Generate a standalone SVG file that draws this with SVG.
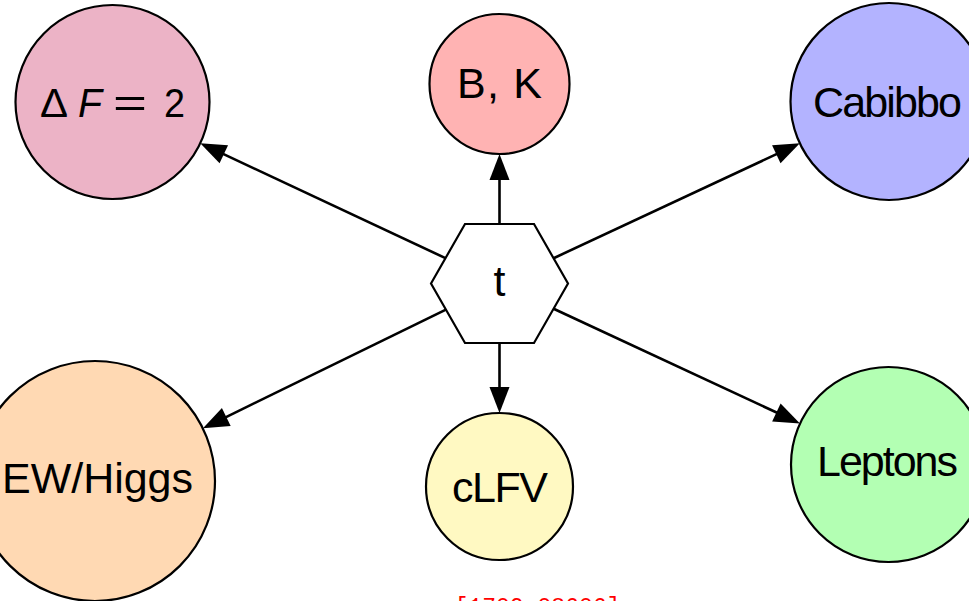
<svg xmlns="http://www.w3.org/2000/svg" width="969" height="601" viewBox="0 0 969 601">
<style>
.node circle{stroke:#000;stroke-width:2.2}
.lbl{font-family:"Liberation Sans","DejaVu Sans",sans-serif;font-size:43px;fill:#000;text-anchor:middle}
.math{font-family:"Liberation Sans","DejaVu Sans",sans-serif;font-size:40px;fill:#000}
.edge{stroke:#000;stroke-width:2.6;fill:none;marker-end:url(#ah)}
</style>
<defs>
<marker id="ah" markerUnits="userSpaceOnUse" markerWidth="26" markerHeight="20" refX="2" refY="10" orient="auto" overflow="visible">
<path d="M0,0 L26,10 L0,20 z" fill="#000"/>
</marker>
</defs>
<rect width="969" height="601" fill="#fff"/>
<g id="connectors">
<line class="edge" x1="445.4" y1="258.1" x2="222.0" y2="153.4"/>
<line class="edge" x1="553.6" y1="258.2" x2="778.1" y2="153.4"/>
<line class="edge" x1="445.9" y1="309.7" x2="224.5" y2="417.8"/>
<line class="edge" x1="553.6" y1="308.7" x2="778.2" y2="413.3"/>
<line class="edge" x1="499.5" y1="224" x2="499.5" y2="178"/>
<line class="edge" x1="499.5" y1="343" x2="499.5" y2="389"/>
</g>
<g id="dF2" class="node">
<circle cx="112.5" cy="102" r="97" fill="#ECB3C6"/>
<text class="math" x="40" y="117" textLength="28" lengthAdjust="spacingAndGlyphs">Δ</text>
<text class="math" x="78" y="117" font-style="italic" textLength="24" lengthAdjust="spacingAndGlyphs">F</text>
<text class="math" x="113" y="117" textLength="34" lengthAdjust="spacingAndGlyphs">=</text>
<text class="math" x="164" y="117" textLength="21" lengthAdjust="spacingAndGlyphs">2</text>
</g>
<g id="BK" class="node">
<circle cx="499.5" cy="84" r="70" fill="#FFB3B3"/>
<text class="lbl" x="499.5" y="98" textLength="85">B, K</text>
</g>
<g id="Cabibbo" class="node">
<circle cx="889" cy="101.5" r="98.5" fill="#B3B3FF"/>
<text class="lbl" x="887.5" y="117" textLength="149">Cabibbo</text>
</g>
<g id="EWHiggs" class="node">
<circle cx="95" cy="481" r="120" fill="#FFD9B3"/>
<text class="lbl" x="97.5" y="493" textLength="191">EW/Higgs</text>
</g>
<g id="cLFV" class="node">
<circle cx="499.5" cy="486.5" r="73.5" fill="#FFF9C2"/>
<text class="lbl" x="500" y="502" textLength="96">cLFV</text>
</g>
<g id="Leptons" class="node">
<circle cx="888.5" cy="464.5" r="97.5" fill="#B3FFB3"/>
<text class="lbl" x="887.5" y="476" textLength="141">Leptons</text>
</g>
<g id="t">
<polygon points="431,283.5 465,224 534,224 568,283.5 534,343 465,343" fill="#fff" stroke="#000" stroke-width="2.2"/>
<text class="lbl" x="499.5" y="296" font-size="41">t</text>
</g>
<text x="537.5" y="614" font-family="Liberation Mono,monospace" font-size="23" fill="#f00" text-anchor="middle">[1709.08606]</text>
</svg>
